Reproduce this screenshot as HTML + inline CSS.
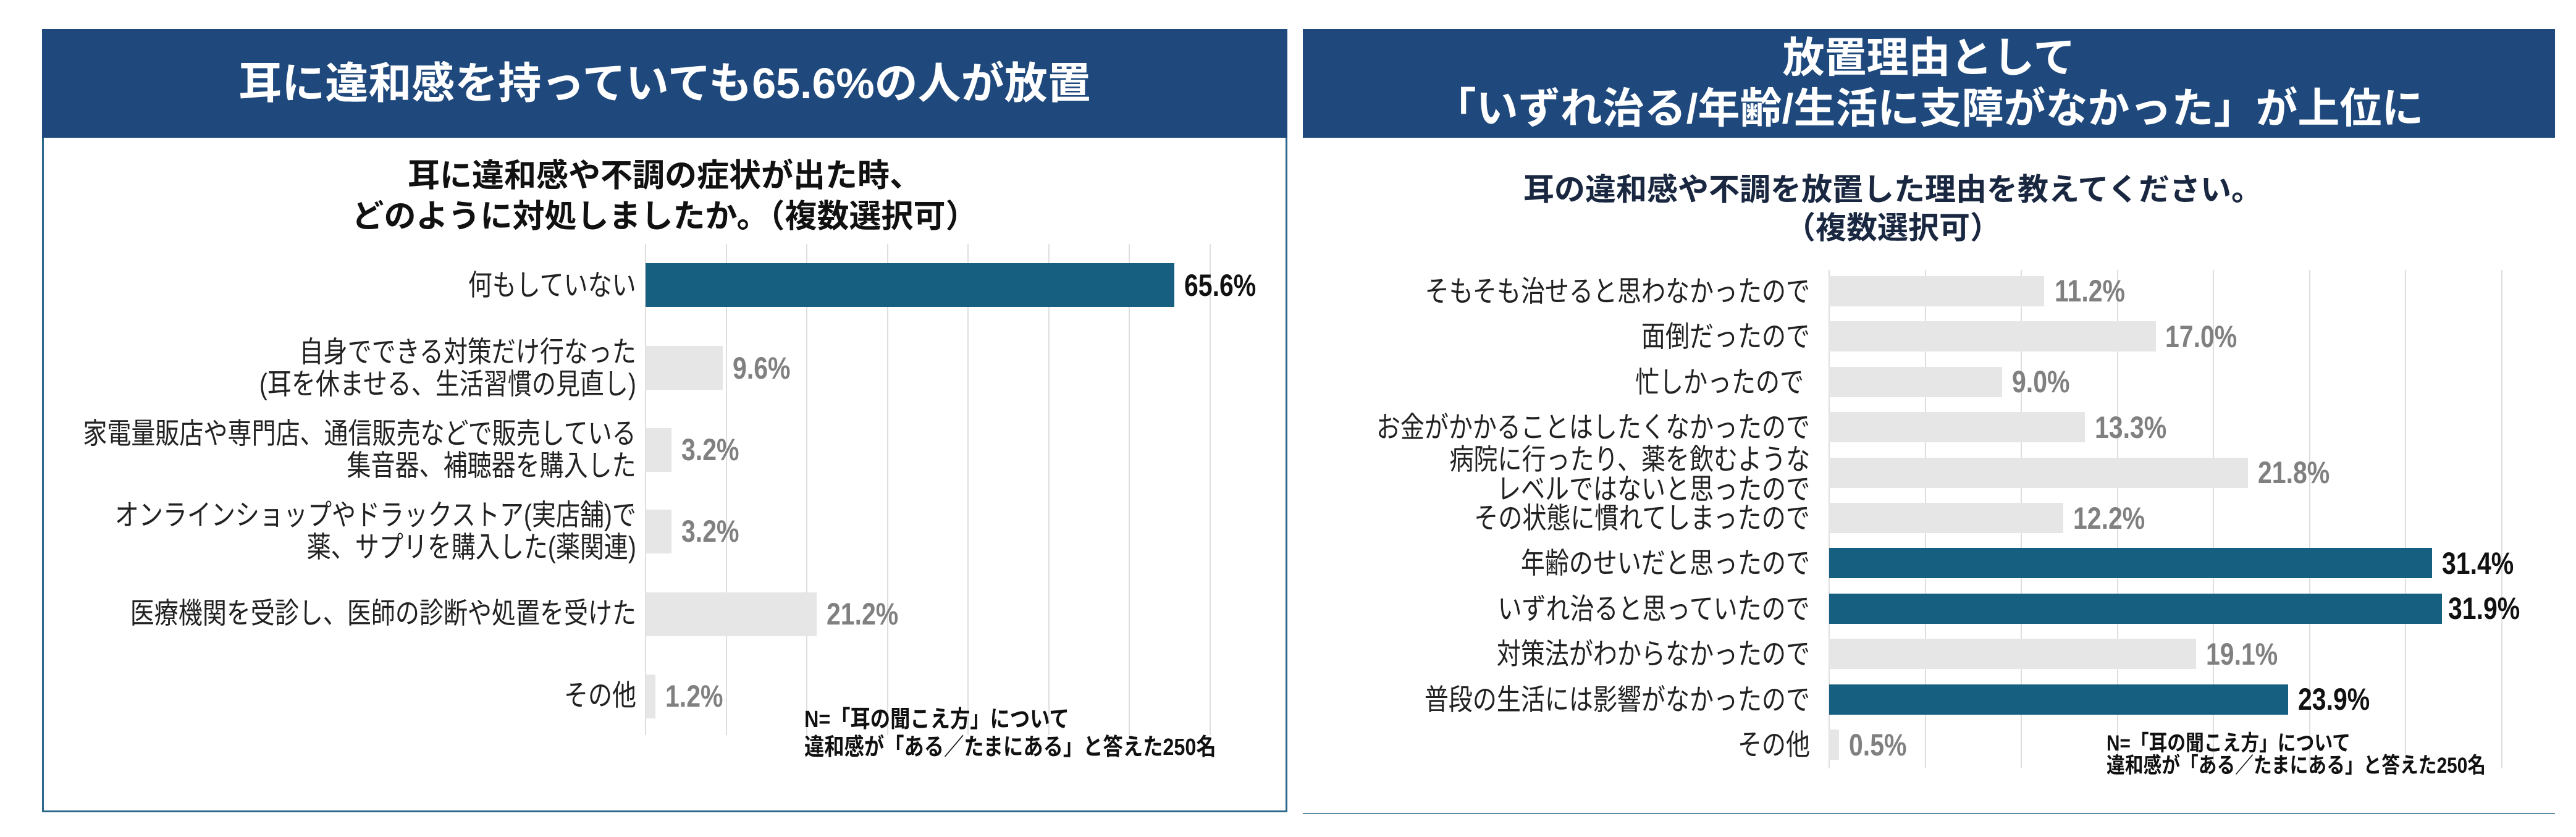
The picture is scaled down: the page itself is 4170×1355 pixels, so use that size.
<!DOCTYPE html>
<html><head><meta charset="utf-8">
<style>
*{margin:0;padding:0;box-sizing:border-box}
body{width:4170px;height:1355px;background:#fff;position:relative;overflow:hidden;font-family:"Liberation Sans","Noto Sans CJK JP",sans-serif}
.a{position:absolute}
.hdr{background:#1f497d;color:#fff;font-weight:bold;text-align:center}
.lbl{position:absolute;text-align:right;color:#222;font-size:47px;line-height:52px;white-space:nowrap;transform:scaleX(0.83);transform-origin:right center}
.val{position:absolute;font-family:"Liberation Sans Narrow","Liberation Sans",sans-serif;font-weight:bold;font-size:50px;white-space:nowrap;transform:scaleX(0.82);transform-origin:left center;line-height:50px}
.g{position:absolute;width:2px;background:#dedede}
.bar{position:absolute}
.d{background:#175f80}
.l{background:#e6e6e6}
.gv{color:#808080}
.dv{color:#111}
.note{position:absolute;font-weight:bold;color:#111;white-space:nowrap;transform:scaleX(0.85);transform-origin:left top}
</style></head><body>

<!-- LEFT PANEL -->
<div class="a" style="left:68px;top:47px;width:2016px;height:1268px;border:3px solid #2b6889;border-top:none"></div>
<div class="a hdr" style="left:68px;top:47px;width:2016px;height:176px;font-size:70px;line-height:176px">耳に違和感を持っていても65.6%の人が放置</div>
<div class="a" style="left:68px;top:252px;width:2016px;text-align:center;font-weight:bold;font-size:52px;line-height:66px;color:#111">耳に違和感や不調の症状が出た時、<br>どのように対処しましたか。（複数選択可）</div>

<div class="g" style="left:1044px;top:395px;height:795px"></div>
<div class="g" style="left:1175px;top:395px;height:795px"></div>
<div class="g" style="left:1305px;top:395px;height:795px"></div>
<div class="g" style="left:1436px;top:395px;height:795px"></div>
<div class="g" style="left:1566px;top:395px;height:795px"></div>
<div class="g" style="left:1697px;top:395px;height:795px"></div>
<div class="g" style="left:1827px;top:395px;height:795px"></div>
<div class="g" style="left:1958px;top:395px;height:795px"></div>

<div class="bar d" style="left:1045px;top:426px;width:856px;height:71px"></div>
<div class="bar l" style="left:1045px;top:560px;width:125px;height:71px"></div>
<div class="bar l" style="left:1045px;top:693px;width:42px;height:71px"></div>
<div class="bar l" style="left:1045px;top:825px;width:42px;height:71px"></div>
<div class="bar l" style="left:1045px;top:959px;width:277px;height:71px"></div>
<div class="bar l" style="left:1045px;top:1092px;width:16px;height:71px"></div>

<div class="val dv" style="left:1917px;top:437px">65.6%</div>
<div class="val gv" style="left:1186px;top:571px">9.6%</div>
<div class="val gv" style="left:1103px;top:703px">3.2%</div>
<div class="val gv" style="left:1103px;top:835px">3.2%</div>
<div class="val gv" style="left:1338px;top:969px">21.2%</div>
<div class="val gv" style="left:1077px;top:1102px">1.2%</div>

<div class="lbl" style="right:3140px;top:436px">何もしていない</div>
<div class="lbl" style="right:3140px;top:544px">自身でできる対策だけ行なった<br>(耳を休ませる、生活習慣の見直し)</div>
<div class="lbl" style="right:3140px;top:676px">家電量販店や専門店、通信販売などで販売している<br>集音器、補聴器を購入した</div>
<div class="lbl" style="right:3140px;top:808px">オンラインショップやドラックストア(実店舗)で<br>薬、サプリを購入した(薬関連)</div>
<div class="lbl" style="right:3140px;top:967px">医療機関を受診し、医師の診断や処置を受けた</div>
<div class="lbl" style="right:3140px;top:1100px">その他</div>

<div class="note" style="left:1302px;top:1143px;font-size:38px;line-height:45px">N=「耳の聞こえ方」について<br>違和感が「ある／たまにある」と答えた250名</div>

<!-- RIGHT PANEL -->
<div class="a hdr" style="left:2109px;top:47px;width:2027px;height:176px;font-size:68px;line-height:82px;padding-top:6px">放置理由として<br>「いずれ治る/年齢/生活に支障がなかった」が上位に</div>
<div class="a" style="left:2109px;top:1316px;width:2027px;height:2px;background:#5f8aa3"></div>
<div class="a" style="left:2109px;top:276px;width:1910px;text-align:center;font-weight:bold;font-size:50px;line-height:62px;color:#1a2740">耳の違和感や不調を放置した理由を教えてください。<br>（複数選択可）</div>

<div class="g" style="left:2960px;top:437px;height:807px"></div>
<div class="g" style="left:3116px;top:437px;height:807px"></div>
<div class="g" style="left:3271px;top:437px;height:807px"></div>
<div class="g" style="left:3427px;top:437px;height:807px"></div>
<div class="g" style="left:3582px;top:437px;height:807px"></div>
<div class="g" style="left:3738px;top:437px;height:807px"></div>
<div class="g" style="left:3893px;top:437px;height:807px"></div>
<div class="g" style="left:4049px;top:437px;height:807px"></div>

<div class="bar l" style="left:2961px;top:447px;width:348px;height:49px"></div>
<div class="bar l" style="left:2961px;top:520px;width:529px;height:49px"></div>
<div class="bar l" style="left:2961px;top:594px;width:280px;height:49px"></div>
<div class="bar l" style="left:2961px;top:667px;width:414px;height:49px"></div>
<div class="bar l" style="left:2961px;top:741px;width:678px;height:49px"></div>
<div class="bar l" style="left:2961px;top:814px;width:379px;height:49px"></div>
<div class="bar d" style="left:2961px;top:887px;width:976px;height:49px"></div>
<div class="bar d" style="left:2961px;top:961px;width:992px;height:49px"></div>
<div class="bar l" style="left:2961px;top:1034px;width:594px;height:49px"></div>
<div class="bar d" style="left:2961px;top:1108px;width:743px;height:49px"></div>
<div class="bar l" style="left:2961px;top:1181px;width:16px;height:49px"></div>

<div class="val gv" style="left:3326px;top:446px">11.2%</div>
<div class="val gv" style="left:3505px;top:520px">17.0%</div>
<div class="val gv" style="left:3257px;top:593px">9.0%</div>
<div class="val gv" style="left:3391px;top:667px">13.3%</div>
<div class="val gv" style="left:3655px;top:740px">21.8%</div>
<div class="val gv" style="left:3356px;top:814px">12.2%</div>
<div class="val dv" style="left:3953px;top:887px">31.4%</div>
<div class="val dv" style="left:3963px;top:960px">31.9%</div>
<div class="val gv" style="left:3571px;top:1034px">19.1%</div>
<div class="val dv" style="left:3720px;top:1107px">23.9%</div>
<div class="val gv" style="left:2993px;top:1181px">0.5%</div>

<div class="lbl" style="right:1240px;top:446px">そもそも治せると思わなかったので</div>
<div class="lbl" style="right:1240px;top:519px">面倒だったので</div>
<div class="lbl" style="right:1250px;top:593px">忙しかったので</div>
<div class="lbl" style="right:1240px;top:666px">お金がかかることはしたくなかったので</div>
<div class="lbl" style="right:1240px;top:720px;line-height:48px">病院に行ったり、薬を飲むような<br>レベルではないと思ったので</div>
<div class="lbl" style="right:1240px;top:813px">その状態に慣れてしまったので</div>
<div class="lbl" style="right:1240px;top:886px">年齢のせいだと思ったので</div>
<div class="lbl" style="right:1240px;top:960px">いずれ治ると思っていたので</div>
<div class="lbl" style="right:1240px;top:1033px">対策法がわからなかったので</div>
<div class="lbl" style="right:1240px;top:1107px">普段の生活には影響がなかったので</div>
<div class="lbl" style="right:1240px;top:1180px">その他</div>

<div class="note" style="left:3410px;top:1186px;font-size:35px;line-height:36px">N=「耳の聞こえ方」について<br>違和感が「ある／たまにある」と答えた250名</div>
</body></html>
